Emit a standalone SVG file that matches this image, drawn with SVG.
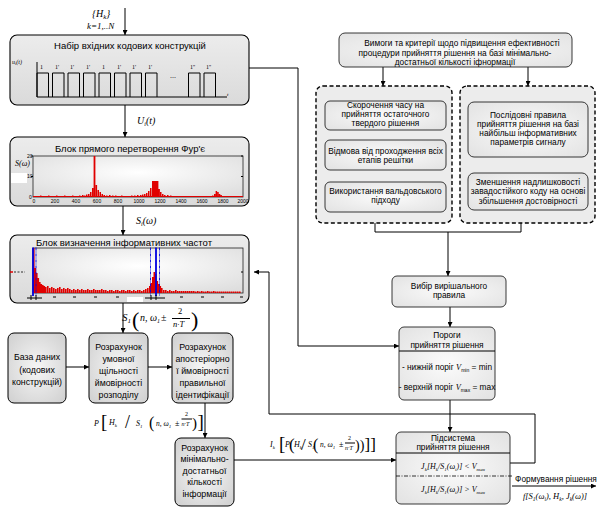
<svg xmlns="http://www.w3.org/2000/svg" width="604" height="508" viewBox="0 0 604 508">
<defs>
<linearGradient id="gBox" x1="0" y1="0" x2="0" y2="1"><stop offset="0" stop-color="#ececec"/><stop offset="1" stop-color="#dadada"/></linearGradient>
<radialGradient id="gRow" cx="0.5" cy="0.5" r="0.7"><stop offset="0" stop-color="#f6f6f6"/><stop offset="1" stop-color="#cfcfcf"/></radialGradient>
<radialGradient id="gPlot" cx="0.5" cy="0.4" r="0.7"><stop offset="0" stop-color="#ffffff"/><stop offset="1" stop-color="#dedede"/></radialGradient>
<radialGradient id="gInner" cx="0.5" cy="0.5" r="0.7"><stop offset="0" stop-color="#fbfbfb"/><stop offset="1" stop-color="#e2e2e2"/></radialGradient>
<marker id="ar" viewBox="0 0 6 6" refX="6" refY="3" markerWidth="5" markerHeight="5" markerUnits="userSpaceOnUse" orient="auto"><path d="M0,0L6,3L0,6z" fill="#000"/></marker>
<style>
.t{font-family:"Liberation Sans",Arial,sans-serif;font-size:9.5px;fill:#000}
.tr{font-family:"Liberation Sans",Arial,sans-serif;font-size:8.8px;fill:#000}
.r{font-family:"Liberation Sans",Arial,sans-serif;font-size:8.3px;fill:#000}
.s{font-family:"Liberation Sans",Arial,sans-serif;font-size:5px;fill:#000}
.m{font-family:"Liberation Serif","Times New Roman",serif;font-style:italic;fill:#000}
.mb{font-family:"Liberation Serif","Times New Roman",serif;fill:#000}
.box{fill:url(#gBox);stroke:#000;stroke-width:1.1}
.row{fill:url(#gRow);stroke:#000;stroke-width:1}
.inner{fill:url(#gInner);stroke:#222;stroke-width:0.9}
.grp{fill:#ececec;stroke:#000;stroke-width:1.4;stroke-dasharray:4 2.5}
.plot{fill:url(#gPlot);stroke:#222;stroke-width:0.8}
.ln{fill:none;stroke:#000;stroke-width:1}
.arr{fill:none;stroke:#000;stroke-width:1;marker-end:url(#ar)}
.bar{fill:#e00000}
.blue{stroke:#0000e0;fill:none}
</style>
</defs>

<g id="connectors">
<path class="arr" d="M125,8V35"/>
<path class="arr" d="M125,105V137"/>
<path class="arr" d="M123,206V235"/>
<path class="arr" d="M123,303V333"/>
<path class="arr" d="M66,367H89"/>
<path class="arr" d="M148,367H172"/>
<path class="arr" d="M205,403V438"/>
<path class="arr" d="M234,460H396"/>
<path class="arr" d="M249,68H298V346H399"/>
<path class="arr" d="M510,463H535V414H269V272H254"/>
<path class="arr" d="M383,67V86"/>
<path class="arr" d="M528,67V86"/>
<path class="ln" d="M375,223V232H521V223"/>
<path class="arr" d="M448,232V276"/>
<path class="arr" d="M450,307V327"/>
<path class="arr" d="M450,400V432"/>
<path class="arr" d="M512,486H596"/>
</g>

<g id="labels">
<text class="m" x="92" y="17" font-size="10">{H<tspan font-size="7" dy="2">k</tspan><tspan dy="-2">}</tspan></text>
<text class="m" x="87" y="29" font-size="9">k=1,..N</text>
<text class="m" x="137" y="124" font-size="10">U<tspan font-size="6" dy="2">i</tspan><tspan dy="-2">(t)</tspan></text>
<text class="m" x="136" y="224" font-size="10">S<tspan font-size="6" dy="2">i</tspan><tspan dy="-2">(ω)</tspan></text>
<g id="lblS1">
<text class="m" x="122" y="321" font-size="11">S<tspan font-size="7" dy="2">1</tspan></text>
<text class="mb" x="132" y="327" font-size="22">(</text>
<text class="m" x="140" y="321" font-size="10">n, ω<tspan font-size="6" dy="2">1</tspan></text>
<text class="mb" x="161" y="321" font-size="10">±</text>
<text class="mb" x="178" y="314" font-size="8.5">2</text>
<path class="ln" d="M172,318.5H190" stroke-width="0.8"/>
<text class="m" x="173" y="327" font-size="8.5">n·T</text>
<text class="mb" x="191" y="327" font-size="22">)</text>
</g>
<g id="lblP">
<text class="m" x="94" y="426" font-size="8">P</text>
<text class="mb" x="101" y="428" font-size="19">[</text>
<text class="m" x="109" y="425" font-size="8">H<tspan font-size="5" dy="2">k</tspan></text>
<text class="mb" x="125" y="428" font-size="18">/</text>
<text class="m" x="136" y="426" font-size="8">S<tspan font-size="5" dy="2">1</tspan></text>
<text class="mb" x="149" y="428" font-size="16">(</text>
<text class="m" x="156" y="426" font-size="7.5">n, ω<tspan font-size="5" dy="2">1</tspan></text>
<text class="mb" x="175" y="426" font-size="8">±</text>
<text class="mb" x="185" y="416" font-size="6">2</text>
<path class="ln" d="M181.5,419H192" stroke-width="0.7"/>
<text class="m" x="181.5" y="426" font-size="6">n·T</text>
<text class="mb" x="192" y="428" font-size="15">)</text>
<text class="mb" x="197.5" y="428" font-size="19">]</text>
</g>
<g id="lblI">
<text class="m" x="270" y="447" font-size="8">I<tspan font-size="5" dy="2">k</tspan></text>
<text class="mb" x="279" y="450" font-size="19">[</text>
<text class="m" x="285" y="447" font-size="8">P</text>
<text class="mb" x="289" y="450" font-size="17">(</text>
<text class="m" x="294" y="447" font-size="8">H<tspan font-size="5" dy="2">k</tspan></text>
<text class="mb" x="301" y="450" font-size="17">/</text>
<text class="m" x="308" y="447" font-size="8">S<tspan font-size="5" dy="2">1</tspan></text>
<text class="mb" x="313" y="450" font-size="16">(</text>
<text class="m" x="320" y="447" font-size="7.5">n, ω<tspan font-size="5" dy="2">1</tspan></text>
<text class="mb" x="339" y="447" font-size="8">±</text>
<text class="mb" x="348" y="440" font-size="6">2</text>
<path class="ln" d="M345,443H355" stroke-width="0.7"/>
<text class="m" x="345" y="450" font-size="6">n·T</text>
<text class="mb" x="355" y="450" font-size="14">))</text>
<text class="mb" x="364.5" y="450" font-size="17">]]</text>
</g>
<text class="r" x="556" y="482" text-anchor="middle">Формування рішення</text>
<text class="m" x="555" y="499" font-size="8.5" text-anchor="middle">f[S<tspan font-size="5.5" dy="2">1</tspan><tspan dy="-2">(ω</tspan><tspan font-size="5.5" dy="2">i</tspan><tspan dy="-2">), H</tspan><tspan font-size="5.5" dy="2">k</tspan><tspan dy="-2">, J</tspan><tspan font-size="5.5" dy="2">k</tspan><tspan dy="-2">(ω)]</tspan></text>
</g>

<g id="n-input">
<rect class="box" x="10" y="35" width="239" height="70" rx="7"/>
<text class="t" x="130" y="49" text-anchor="middle">Набір вхідних кодових конструкцій</text>
<path class="ln" d="M37,62V97H227"/>
<path class="ln" d="M37,97V73H48.5V97M52.5,97V73H64V97M68,97V73H79.5V97M83.5,97V73H95V97M99,97V73H110.5V97M114.5,97V73H126V97M130,97V73H141.5V97M145.5,97V73H157V97M188.5,97V73H200V97M204,97V73H215.5V97"/>
<g class="mb" font-size="6">
<text x="40" y="69">1</text><text x="55" y="69">1'</text><text x="70" y="69">1'</text><text x="86" y="69">1'</text><text x="102" y="69">1</text><text x="117" y="69">1'</text><text x="132" y="69">1'</text><text x="148" y="69">1'</text><text x="190" y="69">1''</text><text x="206" y="69">1''</text>
</g>
<text class="mb" x="170" y="78" font-size="8">...</text>
<text class="m" x="12" y="64" font-size="6">u<tspan font-size="4.5" dy="1">i</tspan><tspan dy="-1">(t)</tspan></text>
<text class="m" x="227" y="96" font-size="5">t</text>
</g>

<g id="n-fourier">
<rect class="box" x="10" y="137" width="239" height="69" rx="7"/>
<text class="t" x="130" y="152" text-anchor="middle">Блок прямого перетворення Фур'є</text>
<rect class="plot" x="33" y="156" width="210" height="41"/>
<rect x="11" y="173" width="16" height="10" fill="#fff"/>
<text class="m" x="15" y="166" font-size="8">S(ω)</text>
<path class="ln" d="M33,156h-2M33,176.5h-2M243,156h-2M243,176.5h-2" stroke-width="0.8"/>
<g class="s" font-size="4">
<text x="27" y="158">20</text><text x="27" y="178">10</text><text x="29" y="199">0</text>
</g>
<path class="bar" d="M36,197v-1h1.5v1zM40,197v-1.5h1.5v1.5zM44,197v-1h1.5v1zM48,197v-1.5h1.5v1.5zM52,197v-1h1.5v1zM56,197v-1.5h1.5v1.5zM60,197v-1h1.5v1zM64,197v-1.5h1.5v1.5zM68,197v-1h1.5v1zM72,197v-1.5h1.5v1.5zM76,197v-1h1.5v1zM79,197v-1.5h1.5v1.5zM82,197v-2h1.5v2zM84,197v-1.5h1.5v1.5zM86,197v-2.5h1.5v2.5zM88,197v-3h1.5v3zM90,197v-5h1.5v5zM92,197v-9h1.5v9zM93.6,197v-41h1.8v41zM95.6,197v-12h1.5v12zM97.5,197v-7h1.5v7zM99.5,197v-5h1.5v5zM101.5,197v-3h1.5v3zM103.5,197v-2h1.5v2zM106,197v-1.5h1.5v1.5zM109,197v-2h1.5v2zM112,197v-1.5h1.5v1.5zM115,197v-1.5h1.5v1.5zM118,197v-1h1.5v1zM121,197v-1.5h1.5v1.5zM124,197v-1h1.5v1zM127,197v-1h1.5v1zM131,197v-1.5h1.5v1.5zM134,197v-1.5h1.5v1.5zM137,197v-2h1.5v2zM140,197v-2h1.5v2zM142,197v-2.5h1.5v2.5zM144,197v-3h1.5v3zM146,197v-4h1.5v4zM148,197v-6h1.5v6zM150,197v-9h1.5v9zM152,197v-16h6.4v16zM158.4,197v-8h1.5v8zM160,197v-5h1.5v5zM162,197v-3h1.5v3zM164,197v-2h1.5v2zM167,197v-2h1.5v2zM170,197v-1.5h1.5v1.5zM173,197v-1h1.5v1zM212,197v-1.5h1.5v1.5zM214,197v-3h1.5v3zM215.6,197v-6h1.5v6zM217.2,197v-5h1.5v5zM218.8,197v-3h1.5v3zM220.4,197v-2h1.5v2z"/>
<path d="M33,196.5H243" stroke="#e00000" stroke-width="1.2"/>
<g class="s" font-size="4.2" text-anchor="middle">
<text x="34" y="203">0</text><text x="55" y="203">200</text><text x="76" y="203">400</text><text x="97" y="203">600</text><text x="118" y="203">800</text><text x="139" y="203">1000</text><text x="160" y="203">1200</text><text x="181" y="203">1400</text><text x="202" y="203">1600</text><text x="223" y="203">1800</text><text x="243" y="203">2000</text>
</g>
</g>

<g id="n-freq">
<rect class="box" x="10" y="235" width="239" height="68" rx="7"/>
<text class="t" x="124" y="246" text-anchor="middle">Блок визначення інформативних частот</text>
<rect class="plot" x="33" y="248" width="210" height="45"/>
<path class="bar" d="M33,293v-45h1.6v45zM34.5,293v-25h1.6v25zM36,293v-20h1.6v20zM37.5,293v-15h1.6v15zM39,293v-11h1.6v11zM40.5,293v-9h1.6v9zM42,293v-8h1.6v8zM43.5,293v-7h1.6v7zM45,293v-6h1.6v6zM47,293v-7h1.6v7zM49,293v-5h1.6v5zM51,293v-6h1.6v6zM53,293v-5h1.6v5zM55,293v-4h1.6v4zM57,293v-5h1.6v5zM59,293v-6h1.6v6zM61,293v-4h1.6v4zM63,293v-5h1.6v5zM65,293v-4h1.6v4zM67,293v-5h1.6v5zM69,293v-4h1.6v4zM71,293v-3h1.6v3zM73,293v-4h1.6v4zM75,293v-3h1.6v3zM77,293v-4h1.6v4zM79,293v-3h1.6v3zM81,293v-4h1.6v4zM83,293v-3h1.6v3zM85,293v-3h1.6v3zM87,293v-4h1.6v4zM89,293v-3h1.6v3zM91,293v-3h1.6v3zM93,293v-4h1.6v4zM95,293v-3h1.6v3zM97,293v-3h1.6v3zM99,293v-3h1.6v3zM101,293v-4h1.6v4zM103,293v-3h1.6v3zM105,293v-3h1.6v3zM107,293v-2h1.6v2zM109,293v-3h1.6v3zM111,293v-3h1.6v3zM113,293v-2h1.6v2zM115,293v-3h1.6v3zM117,293v-3h1.6v3zM119,293v-2h1.6v2zM121,293v-3h1.6v3zM123,293v-3h1.6v3zM125,293v-2h1.6v2zM127,293v-3h1.6v3zM129,293v-3h1.6v3zM131,293v-2h1.6v2zM133,293v-3h1.6v3zM135,293v-2h1.6v2zM137,293v-3h1.6v3zM139,293v-3h1.6v3zM141,293v-2h1.6v2zM143,293v-3h1.6v3zM145,293v-4h1.6v4zM147,293v-5h1.6v5zM149,293v-7h1.6v7zM150.5,293v-10h1.6v10zM152,293v-16h1.6v16zM153.5,293v-21h1.6v21zM155,293v-19h1.6v19zM156.5,293v-12h1.6v12zM158,293v-9h1.6v9zM159.5,293v-7h1.6v7zM161,293v-5h1.6v5zM163,293v-3h1.6v3zM165,293v-3h1.6v3zM167,293v-2h1.6v2zM169,293v-3h1.6v3zM171,293v-2h1.6v2zM173,293v-2h1.6v2zM175,293v-3h1.6v3zM177,293v-2h1.6v2zM179,293v-2h1.6v2zM181,293v-2h1.6v2zM183,293v-2h1.6v2zM185,293v-2h1.6v2zM187,293v-2h1.6v2zM189,293v-2h1.6v2zM191,293v-2h1.6v2zM193,293v-2h1.6v2zM195,293v-1.5h1.6v1.5zM197,293v-2h1.6v2zM199,293v-1.5h1.6v1.5zM201,293v-2h1.6v2zM203,293v-1.5h1.6v1.5zM205,293v-1.5h1.6v1.5zM207,293v-2h1.6v2zM209,293v-1.5h1.6v1.5zM211,293v-1.5h1.6v1.5zM213,293v-2h1.6v2zM215,293v-1.5h1.6v1.5zM217,293v-1.5h1.6v1.5zM219,293v-1.5h1.6v1.5zM221,293v-1.5h1.6v1.5zM223,293v-1.5h1.6v1.5zM225,293v-1.5h1.6v1.5zM227,293v-1.5h1.6v1.5zM229,293v-1.5h1.6v1.5zM231,293v-1.5h1.6v1.5zM233,293v-1.5h1.6v1.5zM235,293v-1.5h1.6v1.5zM237,293v-1.5h1.6v1.5zM239,293v-1.5h1.6v1.5z"/>
<path class="blue" d="M33,247.5V296M156,247.5V296" stroke-width="1.8"/>
<path class="blue" d="M36,247.5V296M150.5,247.5V296M159.5,247.5V296" stroke-width="0.9" stroke-dasharray="3 1 1 1"/>
<path d="M14,272H25" stroke="#000" stroke-width="0.8" stroke-dasharray="2 1.5"/>
<path d="M10,272H13" stroke="#e00000" stroke-width="1.5"/>
<path class="ln" d="M243,272h-2" stroke-width="0.8"/>
<path class="ln" d="M53,297h3M73,297h3M94,297h3M116,297h3M180,297h3M201,297h3M221,297h3M240,297h3" stroke-width="0.8"/>
<path class="ln" d="M27,298H42M31,295V300M36,295V300M145,298H165M151,295V300M156,295V300" stroke-width="0.8"/>
<rect x="127" y="297" width="16" height="5" fill="#fff"/>
</g>

<g id="n-db">
<rect class="row" x="8" y="333" width="58" height="70" rx="6"/>
<text class="tr" x="37" y="360" text-anchor="middle">База даних</text>
<text class="tr" x="37" y="372.5" text-anchor="middle">(кодових</text>
<text class="tr" x="37" y="385" text-anchor="middle">конструкцій)</text>
</g>

<g id="n-density">
<rect class="row" x="89" y="333" width="59" height="70" rx="6"/>
<text class="tr" x="118.5" y="349.5" text-anchor="middle">Розрахунок</text>
<text class="tr" x="118.5" y="361.5" text-anchor="middle">умовної</text>
<text class="tr" x="118.5" y="373.5" text-anchor="middle">щільності</text>
<text class="tr" x="118.5" y="385.5" text-anchor="middle">ймовірності</text>
<text class="tr" x="118.5" y="397.5" text-anchor="middle">розподілу</text>
</g>

<g id="n-aposterior">
<rect class="row" x="172" y="333" width="61" height="70" rx="6"/>
<text class="tr" x="202.5" y="349.5" text-anchor="middle">Розрахунок</text>
<text class="tr" x="202.5" y="361.5" text-anchor="middle">апостеріорно</text>
<text class="tr" x="202.5" y="373.5" text-anchor="middle">ї ймовірності</text>
<text class="tr" x="202.5" y="385.5" text-anchor="middle">правильної</text>
<text class="tr" x="202.5" y="397.5" text-anchor="middle">ідентифікації</text>
</g>

<g id="n-mininfo">
<rect class="row" x="175" y="438" width="59" height="68" rx="6"/>
<text class="tr" x="204.5" y="450.5" text-anchor="middle">Розрахунок</text>
<text class="tr" x="204.5" y="462" text-anchor="middle">мінімально-</text>
<text class="tr" x="204.5" y="473.5" text-anchor="middle">достатньої</text>
<text class="tr" x="204.5" y="485" text-anchor="middle">кількості</text>
<text class="tr" x="204.5" y="496.5" text-anchor="middle">інформації</text>
</g>

<g id="n-requirements">
<rect class="inner" x="339" y="33" width="233" height="34" rx="6" stroke="#000"/>
<text class="r" x="462" y="46" text-anchor="middle">Вимоги та критерії щодо підвищення ефективності</text>
<text class="r" x="455" y="56" text-anchor="middle">процедури прийняття рішення на базі мінімально-</text>
<text class="r" x="455" y="65" text-anchor="middle">достатньої кількості іфнормації</text>
</g>

<g id="n-group-left">
<rect class="grp" x="316" y="86" width="136" height="137" rx="7"/>
<g id="n-time">
<rect class="inner" x="325" y="101" width="121" height="29" rx="5"/>
<text class="r" x="385.5" y="108" text-anchor="middle">Скорочення часу на</text>
<text class="r" x="385.5" y="117" text-anchor="middle">прийняття остаточного</text>
<text class="r" x="385.5" y="126" text-anchor="middle">твердого рішення</text>
</g>
<g id="n-refuse">
<rect class="inner" x="325" y="140" width="121" height="30" rx="5"/>
<text class="r" x="385.5" y="153.5" text-anchor="middle">Відмова від проходження всіх</text>
<text class="r" x="385.5" y="163" text-anchor="middle">етапів решітки</text>
</g>
<g id="n-wald">
<rect class="inner" x="325" y="182" width="121" height="30" rx="5"/>
<text class="r" x="385.5" y="193.5" text-anchor="middle">Використання вальдовського</text>
<text class="r" x="385.5" y="203" text-anchor="middle">підходу</text>
</g>
</g>

<g id="n-group-right">
<rect class="grp" x="460" y="86" width="135" height="137" rx="7"/>
<g id="n-seq">
<rect class="inner" x="468" y="102" width="120" height="55" rx="6"/>
<text class="r" x="528" y="118" text-anchor="middle">Послідовні правила</text>
<text class="r" x="528" y="127" text-anchor="middle">прийняття рішення на базі</text>
<text class="r" x="528" y="136" text-anchor="middle">найбільш інформативних</text>
<text class="r" x="528" y="145" text-anchor="middle">параметрів сигналу</text>
</g>
<g id="n-redund">
<rect class="inner" x="468" y="173" width="120" height="37" rx="6"/>
<text class="r" x="528" y="184.5" text-anchor="middle">Зменшення надлишковості</text>
<text class="r" x="528" y="194" text-anchor="middle">завадостійкого коду на основі</text>
<text class="r" x="528" y="203.5" text-anchor="middle">збільшення достовірності</text>
</g>
</g>

<g id="n-choice">
<rect class="inner" x="392" y="276" width="114" height="31" rx="5" stroke="#000"/>
<text class="r" x="449" y="289" text-anchor="middle">Вибір вирішального</text>
<text class="r" x="449" y="298" text-anchor="middle">правила</text>
</g>

<g id="n-thresholds">
<rect class="inner" x="399" y="327" width="96" height="73" rx="5" stroke="#000"/>
<text class="r" x="447" y="338" text-anchor="middle">Пороги</text>
<text class="r" x="447" y="348" text-anchor="middle">прийняття рішення</text>
<path class="ln" d="M399,351H495" stroke-width="0.9"/>
<text class="r" x="447" y="370" text-anchor="middle">- нижній поріг <tspan class="m">V</tspan><tspan font-size="5" dy="2">min</tspan><tspan dy="-2"> = min</tspan></text>
<text class="r" x="447" y="390" text-anchor="middle">- верхній поріг <tspan class="m">V</tspan><tspan font-size="5" dy="2">max</tspan><tspan dy="-2"> = max</tspan></text>
</g>

<g id="n-subsystem">
<rect class="inner" x="396" y="432" width="114" height="72" rx="5" stroke="#000"/>
<text class="r" x="453" y="441" text-anchor="middle">Підсистема</text>
<text class="r" x="453" y="450" text-anchor="middle">прийняття рішення</text>
<path class="ln" d="M396,453H510" stroke-width="0.9"/>
<text class="m" x="453" y="469" font-size="8" text-anchor="middle">J<tspan font-size="5" dy="2">k</tspan><tspan dy="-2">[H</tspan><tspan font-size="5" dy="2">k</tspan><tspan dy="-2">/S</tspan><tspan font-size="5" dy="2">1</tspan><tspan dy="-2">(ω</tspan><tspan font-size="5" dy="2">i</tspan><tspan dy="-2">)] &lt; V</tspan><tspan font-size="5" dy="2">max</tspan></text>
<path d="M396,476H512" stroke="#000" stroke-width="0.8" stroke-dasharray="4 1.5 1 1.5"/>
<text class="m" x="453" y="492" font-size="8" text-anchor="middle">J<tspan font-size="5" dy="2">k</tspan><tspan dy="-2">[H</tspan><tspan font-size="5" dy="2">k</tspan><tspan dy="-2">/S</tspan><tspan font-size="5" dy="2">1</tspan><tspan dy="-2">(ω</tspan><tspan font-size="5" dy="2">i</tspan><tspan dy="-2">)] &gt; V</tspan><tspan font-size="5" dy="2">max</tspan></text>
</g>
</svg>
